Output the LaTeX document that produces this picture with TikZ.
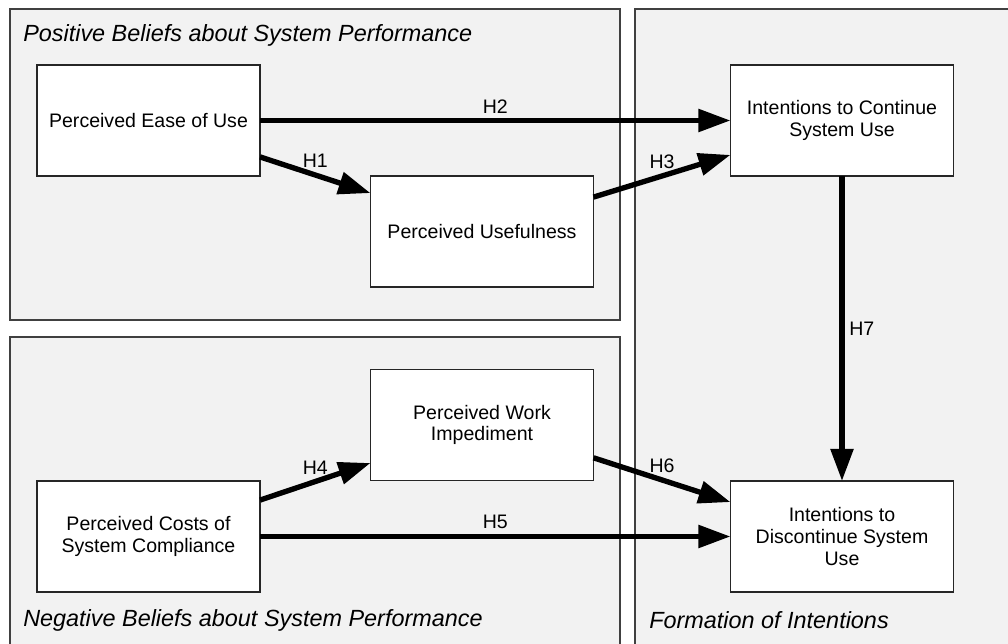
\documentclass[tikz,border=0pt]{standalone}
\usepackage{fontspec}
\setmainfont{Liberation Sans}
\usepackage{tikz}
\usetikzlibrary{arrows.meta}
\definecolor{PanelGray}{RGB}{242,242,242}
\definecolor{EdgeGray}{RGB}{64,64,64}

\begin{document}
\begin{tikzpicture}[
        x=0.025cm, y=-0.025cm,
        % Style khung nhóm: nền xám nhạt, viền xám đậm
        panel/.style={
            draw=EdgeGray,
            fill=PanelGray,
            line width=0.9pt
        },
        % Style tiêu đề nhóm (chữ nghiêng)
        paneltitle/.style={
            font=\fontsize{16.65}{19}\selectfont\itshape,
            anchor=base west,
            inner sep=0pt
        },
        % Style ô khái niệm
        construct/.style={
            draw=black!85,
            fill=white,
            line width=0.9pt,
            minimum width=5.575cm,
            minimum height=2.775cm,
            inner sep=0pt,
            outer sep=0pt,
            align=center,
            font=\fontsize{13.9}{15.4}\selectfont
        },
        % Style mũi tên giả thuyết
        hyp/.style={
            -{Triangle[length=0.8cm, width=0.55cm]},
            line width=3.8pt
        },
        % Style nhãn H1, H2...
        hlabel/.style={
            font=\fontsize{13.9}{15.4}\selectfont
        }
    ]

        \useasboundingbox (0,0) rectangle (1008,644);
        \clip (0,0) rectangle (1008,644);

        % --- 1. VẼ CÁC KHUNG NHÓM ---
        \draw[panel] (10,9) rectangle (620,320);
        \draw[panel] (10,337) rectangle (620,670);
        \draw[panel] (635,9) rectangle (1030,670);

        \node[paneltitle] (tpos) at (23,41.7) {Positive Beliefs about System Performance};
        \node[paneltitle] (tneg) at (23,626.7) {Negative Beliefs about System Performance};
        \node[paneltitle] (tform) at (649,628) {Formation of Intentions};

        % --- 2. VẼ CÁC Ô ---
        \node[construct] (peou) at (148.5,120.5) {Perceived Ease of Use};
        \node[construct] (pu) at (482,231.5) {Perceived Usefulness};
        \node[construct] (icsu) at (842,120.5) {Intentions to Continue\\System Use};
        \node[construct] (pwi) at (482,425) {Perceived Work\\Impediment};
        \node[construct] (pcsc) at (148.5,536.5) {Perceived Costs of\\System Compliance};
        \node[construct] (idsu) at (842,536.5) {Intentions to\\Discontinue System\\Use};

        % --- 3. VẼ CÁC MŨI TÊN ---
        \draw[hyp] ([yshift=-0.91cm]peou.east) -- node[hlabel, above] {H1} ([yshift=0.96cm]pu.west);
        \draw[hyp] (peou.east) -- node[hlabel, above] {H2} (icsu.west);
        \draw[hyp] ([yshift=0.86cm]pu.east) -- node[hlabel, above] {H3} ([yshift=-0.86cm]icsu.west);
        \draw[hyp] ([yshift=0.91cm]pcsc.east) -- node[hlabel, above] {H4} ([yshift=-0.95cm]pwi.west);
        \draw[hyp] (pcsc.east) -- node[hlabel, above] {H5} (idsu.west);
        \draw[hyp] ([yshift=-0.82cm]pwi.east) -- node[hlabel, above] {H6} ([yshift=0.86cm]idsu.west);
        \draw[hyp] (icsu.south) -- node[hlabel, right] {H7} (idsu.north);

    \end{tikzpicture}
\end{document}
